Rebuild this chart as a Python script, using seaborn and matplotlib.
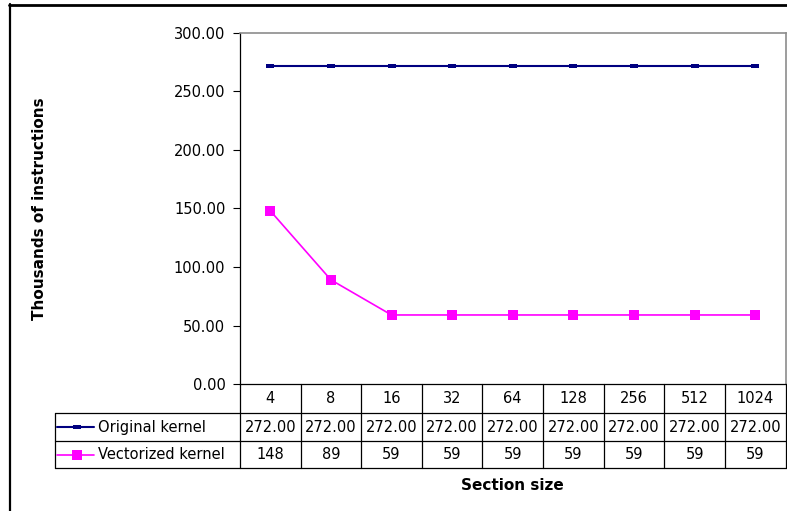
import numpy as np
import pandas as pd
import matplotlib
matplotlib.use("Agg")
import matplotlib.pyplot as plt
import matplotlib.transforms as mtransforms
from matplotlib.lines import Line2D
import seaborn as sns

# ---- data -------------------------------------------------------------
section_sizes = ["4", "8", "16", "32", "64", "128", "256", "512", "1024"]
original_kernel = [272.00, 272.00, 272.00, 272.00, 272.00, 272.00, 272.00, 272.00, 272.00]
vectorized_kernel = [148, 89, 59, 59, 59, 59, 59, 59, 59]
series_names = ["Original kernel", "Vectorized kernel"]
y_ticks = [0, 50, 100, 150, 200, 250, 300]

sns.set_style("white")
plt.rcParams["font.family"] = ["DejaVu Sans"]
plt.rcParams["text.color"] = "black"
plt.rcParams["ytick.color"] = "black"
plt.rcParams["xtick.color"] = "black"
plt.rcParams["axes.labelcolor"] = "black"

W, H = 787, 511
fig = plt.figure(figsize=(W / 100, H / 100), dpi=100)


def fx(px):
    return px / W


def fy(py):
    return 1 - py / H


ax = fig.add_axes([fx(240), fy(384), fx(785.5) - fx(240), fy(33) - fy(384)])

df = pd.DataFrame({
    "pos": np.arange(len(section_sizes)),
    series_names[0]: original_kernel,
    series_names[1]: vectorized_kernel,
})

navy = "#000080"
magenta = "#FF00FF"
dash_marker = [(-1, -0.45), (1, -0.45), (1, 0.45), (-1, 0.45), (-1, -0.45)]

sns.lineplot(data=df, x="pos", y=series_names[0], ax=ax, color=navy, lw=1.5,
             marker=dash_marker, markersize=6, markeredgewidth=0,
             markerfacecolor=navy, sort=False)
sns.lineplot(data=df, x="pos", y=series_names[1], ax=ax, color=magenta, lw=1.2,
             marker="s", markersize=6.8, markeredgewidth=0,
             markerfacecolor=magenta, sort=False)

ax.set_xlim(-0.5, len(section_sizes) - 0.5)
ax.set_ylim(0, 300)
ax.set_xticks([])
ax.set_yticks(y_ticks)
ax.set_yticklabels([f"{v:.2f}" for v in y_ticks], fontsize=10.5, color="black")
ax.tick_params(axis="y", direction="out", length=5, width=0.8, color="black", pad=5.5, left=True)
ax.set_xlabel("")
ax.set_ylabel("")
for side in ("left", "bottom"):
    ax.spines[side].set_color("black")
    ax.spines[side].set_linewidth(0.9)
for side in ("top", "right"):
    ax.spines[side].set_color("#8c8c8c")
    ax.spines[side].set_linewidth(1.2)

# ---- data table under the plot -----------------------------------------
row_top, row1, row2, row3 = 384, 413, 441, 468
table_left = 55
right_px = 785.5
blend = mtransforms.blended_transform_factory(ax.transData, fig.transFigure)
lw_tab = 0.9

edges = np.arange(len(section_sizes) + 1) - 0.5
for e in edges:
    fig.add_artist(Line2D([e, e], [fy(row_top), fy(row3)], transform=blend,
                          color="black", lw=lw_tab))
for yy in (row1, row2, row3):
    fig.add_artist(Line2D([fx(table_left), fx(right_px)], [fy(yy), fy(yy)],
                          transform=fig.transFigure, color="black", lw=lw_tab))
fig.add_artist(Line2D([fx(table_left), fx(table_left)], [fy(row1), fy(row3)],
                      transform=fig.transFigure, color="black", lw=lw_tab))

cell_fs = 10.5
for i, lab in enumerate(section_sizes):
    fig.text(i, fy((row_top + row1) / 2), lab, transform=blend,
             ha="center", va="center", fontsize=cell_fs)
    fig.text(i, fy((row1 + row2) / 2), f"{original_kernel[i]:.2f}", transform=blend,
             ha="center", va="center", fontsize=cell_fs)
    fig.text(i, fy((row2 + row3) / 2), f"{vectorized_kernel[i]:.0f}", transform=blend,
             ha="center", va="center", fontsize=cell_fs)

# legend keys inside the table
key_specs = [
    (series_names[0], navy, 1.5, dash_marker, 6, (row1 + row2) / 2),
    (series_names[1], magenta, 1.2, "s", 6.8, (row2 + row3) / 2),
]
for name, col, lw, mk, ms, yc in key_specs:
    fig.add_artist(Line2D([fx(57), fx(94)], [fy(yc), fy(yc)], transform=fig.transFigure,
                          color=col, lw=lw))
    fig.add_artist(Line2D([fx(77)], [fy(yc)], transform=fig.transFigure, color=col,
                          marker=mk, markersize=ms, markeredgewidth=0,
                          markerfacecolor=col, linestyle="none"))
    fig.text(fx(98), fy(yc), name, ha="left", va="center", fontsize=cell_fs)

# axis titles
fig.text(fx(512.5), fy(485), "Section size", ha="center", va="center",
         fontsize=11, fontweight="bold")
fig.text(fx(40), fy(208.5), "Thousands of instructions", ha="center", va="center",
         rotation=90, fontsize=11, fontweight="bold")

# outer frame edges
fig.add_artist(Line2D([fx(9), fx(787)], [fy(5), fy(5)], transform=fig.transFigure,
                      color="black", lw=2.0))
fig.add_artist(Line2D([fx(9.5), fx(9.5)], [fy(4), fy(511)], transform=fig.transFigure,
                      color="black", lw=1.6))

fig.savefig("out.png", dpi=100, facecolor="white")
